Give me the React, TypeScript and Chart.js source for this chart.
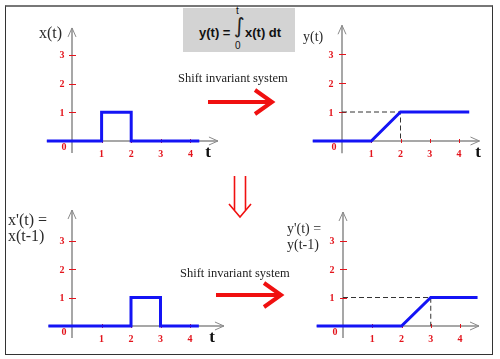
import React, { useEffect, useRef } from "react";
import { Chart, registerables } from "chart.js";
Chart.register(...registerables);

// ---- data ----
const xTickValues = [1, 2, 3, 4];
const yTickValues = [1, 2, 3];
const xTickLabels = ["1", "2", "3", "4"];
const yTickLabels = ["1", "2", "3"];

const pulseT = [-0.85, 1, 1, 2, 2, 4.3];
const pulseV = [0, 0, 1, 1, 0, 0];
const rampT = [-1.0, 1, 2, 4.35];
const rampV = [0, 0, 1, 1];
const guideT = [0, 2, 2];
const guideV = [1, 1, 0];

const pulse2T = [-0.8, 2, 2, 3, 3, 4.3];
const pulse2V = [0, 0, 1, 1, 0, 0];
const ramp2T = [-0.9, 2, 3, 4.6];
const ramp2V = [0, 0, 1, 1];
const guide2T = [0, 3, 3];
const guide2V = [1, 1, 0];

const toPts = (t: number[], v: number[]) => t.map((x, i) => ({ x, y: v[i] }));

type PanelCfg = {
  left: number; top: number; width: number; height: number;
  ox: number; oy: number; ux: number; uy: number;
  axX: [number, number]; axY: [number, number];
  lineT: number[]; lineV: number[];
  gT?: number[]; gV?: number[];
  tx: number | null; ylabDx: number;
};

const panels: PanelCfg[] = [
  { left: 30, top: 18, width: 200, height: 147, ox: 72, oy: 141, ux: 29.6, uy: 28.7,
    axX: [-0.85, 4.93], axY: [-0.42, 3.94], lineT: pulseT, lineV: pulseV, tx: 4.6, ylabDx: -10 },
  { left: 300, top: 18, width: 190, height: 147, ox: 342, oy: 141, ux: 29.25, uy: 29,
    axX: [-1.0, 4.7], axY: [-0.42, 3.99], lineT: rampT, lineV: rampV, gT: guideT, gV: guideV, tx: 4.65, ylabDx: -11 },
  { left: 30, top: 200, width: 200, height: 145, ox: 72, oy: 326, ux: 29.5, uy: 28.5,
    axX: [-0.8, 5.15], axY: [-0.42, 4.07], lineT: pulse2T, lineV: pulse2V, tx: 4.75, ylabDx: -10 },
  { left: 300, top: 200, width: 190, height: 145, ox: 343, oy: 326, ux: 29.25, uy: 28.5,
    axX: [-0.9, 4.65], axY: [-0.42, 4.0], lineT: ramp2T, lineV: ramp2V, gT: guide2T, gV: guide2V, tx: null, ylabDx: -11 },
];

const RED = "#e3141c";
const AXIS = "#8a8a8a";

function makeAxesPlugin(cfg: PanelCfg) {
  return {
    id: "axesDraw",
    beforeDatasetsDraw(chart: any) {
      const ctx = chart.ctx as CanvasRenderingContext2D;
      const xs = chart.scales.x, ys = chart.scales.y;
      const px = (v: number) => xs.getPixelForValue(v);
      const py = (v: number) => ys.getPixelForValue(v);
      const x0 = px(0), y0 = py(0);
      ctx.save();
      ctx.strokeStyle = AXIS;
      ctx.lineWidth = 1.5;
      ctx.beginPath();
      ctx.moveTo(px(cfg.axX[0]), y0);
      ctx.lineTo(px(cfg.axX[1]), y0);
      ctx.moveTo(x0, py(cfg.axY[0]));
      ctx.lineTo(x0, py(cfg.axY[1]));
      ctx.stroke();
      ctx.lineWidth = 1;
      const xe = px(cfg.axX[1]), ye = py(cfg.axY[1]);
      ctx.beginPath();
      ctx.moveTo(xe - 9, y0 - 4);
      ctx.lineTo(xe, y0);
      ctx.lineTo(xe - 9, y0 + 4);
      ctx.moveTo(x0 - 4, ye + 9);
      ctx.lineTo(x0, ye);
      ctx.lineTo(x0 + 4, ye + 9);
      ctx.stroke();
      ctx.strokeStyle = RED;
      ctx.lineWidth = 1;
      ctx.beginPath();
      yTickValues.forEach((v) => {
        ctx.moveTo(x0 - 3, Math.round(py(v)) + 0.5);
        ctx.lineTo(x0 + 4, Math.round(py(v)) + 0.5);
      });
      xTickValues.forEach((v) => {
        ctx.moveTo(Math.round(px(v)) + 0.5, y0 - 2);
        ctx.lineTo(Math.round(px(v)) + 0.5, y0 + 2);
      });
      ctx.stroke();
      ctx.fillStyle = RED;
      ctx.font = 'bold 10px "Liberation Serif"';
      ctx.textAlign = "center";
      ctx.textBaseline = "middle";
      yTickValues.forEach((v, i) => ctx.fillText(yTickLabels[i], x0 + cfg.ylabDx, py(v) + 1));
      xTickValues.forEach((v, i) => ctx.fillText(xTickLabels[i], px(v), y0 + 13));
      ctx.fillText("0", x0 - 8, y0 + 6);
      if (cfg.tx !== null) {
        ctx.fillStyle = "#111";
        ctx.font = 'bold 17px "Liberation Serif"';
        ctx.fillText("t", px(cfg.tx), y0 + 12);
      }
      ctx.restore();
    },
  };
}

function Panel({ cfg }: { cfg: PanelCfg }) {
  const ref = useRef<HTMLCanvasElement>(null);
  useEffect(() => {
    const { left, top, width, height, ox, oy, ux, uy } = cfg;
    const datasets: any[] = [
      {
        data: toPts(cfg.lineT, cfg.lineV),
        borderColor: "#1414f5",
        borderWidth: 3,
        pointRadius: 0,
        tension: 0,
        borderJoinStyle: "miter",
        borderCapStyle: "butt",
        fill: false,
      },
    ];
    if (cfg.gT && cfg.gV) {
      datasets.push({
        data: toPts(cfg.gT, cfg.gV),
        borderColor: "#333",
        borderWidth: 1,
        borderDash: [5, 3],
        pointRadius: 0,
        tension: 0,
        fill: false,
      });
    }
    const chart = new Chart(ref.current as HTMLCanvasElement, {
      type: "line",
      data: { datasets },
      options: {
        responsive: false,
        animation: false,
        events: [],
        layout: { padding: 0 },
        plugins: { legend: { display: false }, tooltip: { enabled: false } },
        scales: {
          x: { type: "linear", display: false, min: (left - ox) / ux, max: (left + width - ox) / ux },
          y: { type: "linear", display: false, min: (oy - top - height) / uy, max: (oy - top) / uy },
        },
      } as any,
      plugins: [makeAxesPlugin(cfg)],
    });
    return () => chart.destroy();
  }, []);
  return (
    <canvas
      ref={ref}
      width={cfg.width}
      height={cfg.height}
      style={{ position: "absolute", left: cfg.left, top: cfg.top, width: cfg.width, height: cfg.height }}
    />
  );
}

const serif = '"Liberation Serif", "Times New Roman", serif';
const sans = '"Liberation Sans", Arial, sans-serif';

function Txt({ x, y, size, children, style }: any) {
  return (
    <div
      style={{
        position: "absolute", left: x, top: y - size / 2, fontSize: size, lineHeight: `${size}px`,
        fontFamily: serif, color: "#2a2a2a", whiteSpace: "nowrap", ...style,
      }}
    >
      {children}
    </div>
  );
}

export default function App() {
  return (
    <div style={{ position: "fixed", left: 0, top: 0, width: 500, height: 359, background: "#fff", overflow: "hidden" }}>
      <div style={{ position: "absolute", left: 5, top: 5, width: 486, height: 347, borderTop: "2px solid #777", borderLeft: "1px solid #333", borderRight: "1px solid #333", borderBottom: "1px solid #333" }} />
      {/* formula box */}
      <div style={{ position: "absolute", left: 183, top: 8, width: 112, height: 44, background: "#d3d3d3" }} />
      <Txt x={199} y={32} size={13} style={{ fontFamily: sans, fontWeight: "bold", color: "#111" }}>y(t) =</Txt>
      <Txt x={234} y={26} size={21} style={{ fontFamily: '"DejaVu Sans"', color: "#222" }}>∫</Txt>
      <Txt x={236} y={11} size={10} style={{ fontFamily: sans, color: "#111" }}>t</Txt>
      <Txt x={235} y={46} size={10} style={{ fontFamily: sans, color: "#111" }}>0</Txt>
      <Txt x={245} y={32} size={13} style={{ fontFamily: sans, fontWeight: "bold", color: "#111" }}>x(t) dt</Txt>

      {panels.map((p, i) => <Panel key={i} cfg={p} />)}

      <Txt x={39} y={33} size={16}>x(t)</Txt>
      <Txt x={303} y={37} size={14}>y(t)</Txt>
      <Txt x={8} y={220} size={16}>x'(t) =</Txt>
      <Txt x={8} y={236} size={16}>x(t-1)</Txt>
      <Txt x={287} y={229} size={14}>y'(t) =</Txt>
      <Txt x={287} y={245} size={14}>y(t-1)</Txt>

      <Txt x={178} y={78} size={12.5} style={{ color: "#222" }}>Shift invariant system</Txt>
      <Txt x={180} y={273} size={12.5} style={{ color: "#222" }}>Shift invariant system</Txt>

      <svg width={500} height={359} style={{ position: "absolute", left: 0, top: 0 }}>
        <g stroke="#f01010" fill="none">
          <line x1={208} y1={102} x2={270} y2={102} strokeWidth={4} />
          <polyline points="255,90 272,102 255,114" strokeWidth={4} strokeLinejoin="miter" />
          <line x1={216} y1={295} x2={279} y2={295} strokeWidth={4} />
          <polyline points="264,283 281,295 264,307" strokeWidth={4} strokeLinejoin="miter" />
          <line x1={234.5} y1={176} x2={234.5} y2={210} strokeWidth={1.6} />
          <line x1={245.5} y1={176} x2={245.5} y2={210} strokeWidth={1.6} />
          <polyline points="229,204 240,217 251,204" strokeWidth={1.6} />
        </g>
      </svg>
    </div>
  );
}
